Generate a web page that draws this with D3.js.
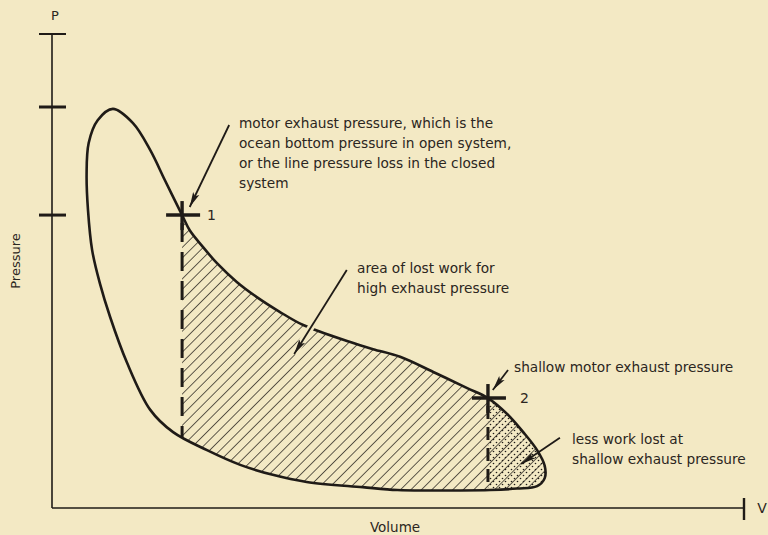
<!DOCTYPE html>
<html>
<head>
<meta charset="utf-8">
<script src="https://cdn.jsdelivr.net/npm/d3@7"></script>
<style>
  html, body { margin: 0; padding: 0; background: #f3e9c4; }
  svg { display: block; }
  text { font-family: "DejaVu Sans", "Liberation Sans", sans-serif; fill: #2b2621; }
</style>
</head>
<body>
<div id="chart"></div>
<script>
// P-V loop (volume 0..10, pressure 0..10)
const loopVolume = [0.88, 1.17, 1.42, 1.63, 1.88, 1.99, 2.18, 2.38, 2.67, 2.96, 3.29, 3.63, 4.31, 4.64, 5.03, 5.51, 6.00, 6.30,
  6.58, 6.81, 7.01, 7.12, 7.12, 7.01, 6.72, 6.33, 5.85, 5.46, 4.99, 4.49, 3.68, 3.19, 2.72, 2.24, 1.75, 1.42,
  1.08, 0.84, 0.69, 0.58, 0.52, 0.50, 0.53, 0.66];
const loopPressure = [8.42, 8.12, 7.55, 6.92, 6.18, 5.86, 5.51, 5.17, 4.77, 4.45, 4.14, 3.86, 3.50, 3.35, 3.19, 2.87, 2.53, 2.32,
  1.98, 1.60, 1.22, 0.89, 0.63, 0.46, 0.41, 0.38, 0.37, 0.37, 0.38, 0.44, 0.55, 0.70, 0.91, 1.22, 1.60, 2.07,
  3.08, 4.03, 4.75, 5.44, 6.29, 7.03, 7.70, 8.18];

// exhaust pressure points 1 and 2
const pointNames = ["1", "2"];
const pointVolume = [1.88, 6.30];
const pointPressure = [6.18, 2.32];

// pressure axis ticks
const pressureTicks = [10, 8.46, 6.18];

// annotation arrows (from -> to, in volume/pressure units)
const arrowFromV = [2.56, 4.26, 6.59, 7.34];
const arrowFromP = [8.08, 5.02, 2.91, 1.48];
const arrowToV = [1.99, 3.50, 6.37, 6.78];
const arrowToP = [6.35, 3.25, 2.49, 0.93];

const notes = [
  { x: 239, y: 128, lines: ["motor exhaust pressure, which is the", "ocean bottom pressure in open system,", "or the line pressure loss in the closed", "system"] },
  { x: 357, y: 273, lines: ["area of lost work for", "high exhaust pressure"] },
  { x: 514, y: 372, lines: ["shallow motor exhaust pressure"] },
  { x: 572, y: 444, lines: ["less work lost at", "shallow exhaust pressure"] }
];

const width = 768, height = 535;
const ink = "#1f1b17";
const paper = "#f3e9c4";

const svg = d3.select("#chart").append("svg")
  .attr("width", width)
  .attr("height", height);

const x = d3.scaleLinear().domain([0, 10]).range([52, 744]);
const y = d3.scaleLinear().domain([0, 10]).range([508, 34]);

const defs = svg.append("defs");

// diagonal hatch
const hatch = defs.append("pattern")
  .attr("id", "hatch")
  .attr("patternUnits", "userSpaceOnUse")
  .attr("width", 7.4).attr("height", 7.4)
  .attr("patternTransform", "rotate(45)");
hatch.append("line")
  .attr("x1", 0).attr("y1", 0).attr("x2", 0).attr("y2", 7.4)
  .attr("stroke", ink).attr("stroke-width", 1.4);

// stipple
const dots = defs.append("pattern")
  .attr("id", "dots")
  .attr("patternUnits", "userSpaceOnUse")
  .attr("width", 6).attr("height", 6);
dots.append("circle").attr("cx", 1.5).attr("cy", 1.5).attr("r", 0.8).attr("fill", ink);
dots.append("circle").attr("cx", 4.5).attr("cy", 4.5).attr("r", 0.8).attr("fill", ink);

const loopData = loopVolume.map((v, i) => [v, loopPressure[i]]);
const loopLine = d3.line()
  .x(d => x(d[0]))
  .y(d => y(d[1]))
  .curve(d3.curveCatmullRomClosed.alpha(0.5));

defs.append("clipPath").attr("id", "loopClip")
  .append("path").attr("d", loopLine(loopData));

// arrowhead
defs.append("marker")
  .attr("id", "arrow")
  .attr("markerUnits", "userSpaceOnUse")
  .attr("viewBox", "0 -4 15 8")
  .attr("refX", 15).attr("refY", 0)
  .attr("markerWidth", 15).attr("markerHeight", 8)
  .attr("orient", "auto")
  .append("path")
  .attr("d", "M0,-3.4L15,0L0,3.4L3,0Z")
  .attr("fill", ink);

// shaded areas
const shade = svg.append("g").attr("clip-path", "url(#loopClip)");
shade.append("rect")
  .attr("x", x(pointVolume[1])).attr("y", y(10))
  .attr("width", x(10) - x(pointVolume[1])).attr("height", y(0) - y(10))
  .attr("fill", "url(#dots)");
shade.append("rect")
  .attr("x", x(pointVolume[0])).attr("y", y(10))
  .attr("width", x(10) - x(pointVolume[0])).attr("height", y(0) - y(10))
  .attr("fill", "url(#hatch)");

// dashed verticals down from the exhaust points
shade.selectAll("line.drop")
  .data(pointVolume)
  .join("line")
  .attr("class", "drop")
  .attr("x1", d => x(d)).attr("x2", d => x(d))
  .attr("y1", (d, i) => y(pointPressure[i]) + 8)
  .attr("y2", y(0))
  .attr("stroke", ink)
  .attr("stroke-width", 3)
  .attr("stroke-dasharray", (d, i) => i === 0 ? "19,10" : "13,8");

// loop outline
svg.append("path")
  .attr("d", loopLine(loopData))
  .attr("fill", "none")
  .attr("stroke", ink)
  .attr("stroke-width", 2.6);

// axes
svg.append("line")
  .attr("x1", x(0)).attr("x2", x(0)).attr("y1", y(0)).attr("y2", y(10))
  .attr("stroke", ink).attr("stroke-width", 1.6);
svg.append("line")
  .attr("x1", x(0)).attr("x2", x(10)).attr("y1", y(0)).attr("y2", y(0))
  .attr("stroke", ink).attr("stroke-width", 1.6);
svg.selectAll("line.ptick")
  .data(pressureTicks)
  .join("line")
  .attr("class", "ptick")
  .attr("x1", x(0) - 13).attr("x2", x(0) + 14)
  .attr("y1", d => y(d)).attr("y2", d => y(d))
  .attr("stroke", ink)
  .attr("stroke-width", (d, i) => i === 0 ? 2 : 3);
svg.append("line")
  .attr("x1", x(10)).attr("x2", x(10)).attr("y1", y(0) - 10).attr("y2", y(0) + 12)
  .attr("stroke", ink).attr("stroke-width", 2.4);

// crosses at points 1 and 2
const cross = svg.selectAll("g.cross")
  .data(pointNames)
  .join("g")
  .attr("class", "cross")
  .attr("transform", (d, i) => `translate(${x(pointVolume[i])},${y(pointPressure[i])})`);
cross.append("line").attr("x1", -16).attr("x2", 18).attr("y1", 0).attr("y2", 0)
  .attr("stroke", ink).attr("stroke-width", 3.4);
cross.append("line").attr("x1", 0).attr("x2", 0).attr("y1", -14).attr("y2", 15)
  .attr("stroke", ink).attr("stroke-width", 3.4);
cross.append("text")
  .attr("x", (d, i) => i === 0 ? 25 : 32)
  .attr("y", 5)
  .attr("font-size", 14)
  .text(d => d);

// arrows (the one across the loop edge gets a paper-coloured halo, as in the print)
svg.append("line")
  .attr("x1", x(arrowFromV[1])).attr("y1", y(arrowFromP[1]))
  .attr("x2", x(arrowToV[1])).attr("y2", y(arrowToP[1]))
  .attr("stroke", paper).attr("stroke-width", 7);
svg.selectAll("line.arrow")
  .data(arrowFromV)
  .join("line")
  .attr("class", "arrow")
  .attr("x1", d => x(d)).attr("y1", (d, i) => y(arrowFromP[i]))
  .attr("x2", (d, i) => x(arrowToV[i])).attr("y2", (d, i) => y(arrowToP[i]))
  .attr("stroke", ink)
  .attr("stroke-width", 1.8)
  .attr("marker-end", "url(#arrow)");

// annotation text
notes.forEach(n => {
  const t = svg.append("text").attr("x", n.x).attr("y", n.y).attr("font-size", 13.7);
  n.lines.forEach((l, i) => t.append("tspan").attr("x", n.x).attr("dy", i === 0 ? 0 : 20).text(l));
});

// axis labels
svg.append("text").attr("x", x(0) + 3).attr("y", 20).attr("text-anchor", "middle").attr("font-size", 13).text("P");
svg.append("text").attr("x", x(10) + 18).attr("y", y(0) + 5).attr("text-anchor", "middle").attr("font-size", 14).text("V");
svg.append("text").attr("x", 395).attr("y", 532).attr("text-anchor", "middle").attr("font-size", 13.5).text("Volume");
svg.append("text")
  .attr("transform", "translate(20,261) rotate(-90)")
  .attr("text-anchor", "middle").attr("font-size", 13).text("Pressure");
</script>
</body>
</html>
